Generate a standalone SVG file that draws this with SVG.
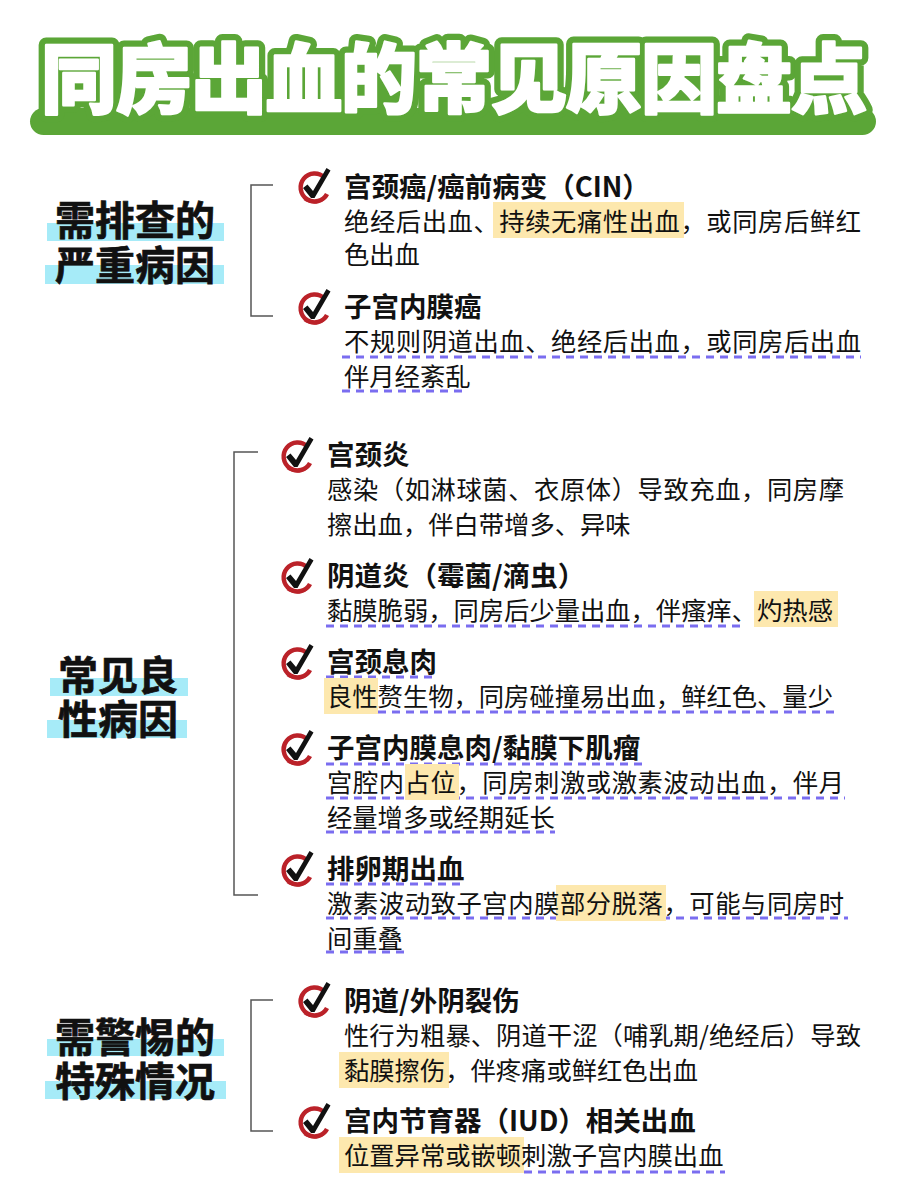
<svg xmlns="http://www.w3.org/2000/svg" width="900" height="1200" viewBox="0 0 900 1200">
<style>
text{font-family:"Noto Sans CJK SC","Noto Sans CJK JP",sans-serif;fill:#111}
.t{font-size:76px;font-weight:900;fill:#fff;stroke:#fff;stroke-width:2.5px;stroke-linejoin:round;letter-spacing:-1px}
.to{font-size:76px;font-weight:900;fill:#5ba637;stroke:#5ba637;stroke-width:15px;stroke-linejoin:round;letter-spacing:-1px}
.h{font-size:27.5px;font-weight:700}
.b{font-size:25.3px;font-weight:400}
.l{font-size:40px;font-weight:700;text-anchor:middle;stroke:#111;stroke-width:.7px}
.c{fill:#a6ebf8}
.y{fill:#fde8ae}
.u{stroke:#7a6df0;stroke-width:3;stroke-dasharray:8 6;fill:none}
.br{fill:none;stroke:#555;stroke-width:1.5}
</style>
<defs>
<g id="chk">
<path d="M10.500 -8.500 A14 14 0 1 0 13 8" fill="none" stroke="#bb2229" stroke-width="4.500"/>
<path d="M-10 13.500 A17 17 0 0 0 14 9.500" fill="none" stroke="#bb2229" stroke-width="1.300"/>
<path d="M-11 2 L-6.500 -1.500 L-1 5 L12.500 -18 L16.500 -15.500 L0.500 12 L-3 12 Z" fill="#111"/>
</g>
</defs>
<g id="title">
<rect x="30" y="108" width="846" height="27" rx="13.500" fill="#5ba637"/>
<text class="to" x="41" y="107">同房出血的常见原因盘点</text>
<text class="t" x="41" y="107">同房出血的常见原因盘点</text>
</g>
<g id="connectors">
<path class="br" d="M273 185H251V316H273"/>
<path class="br" d="M258 452H234V895H258"/>
<path class="br" d="M273 1000H251V1131H273"/>
</g>
<g id="label-1">
<rect class="c" x="47" y="223" width="177" height="18"/><rect class="c" x="45" y="265" width="179" height="19"/>
<text class="l" x="135" y="235">需排查的</text><text class="l" x="135" y="280">严重病因</text>
</g>
<g id="label-2">
<rect class="c" x="50" y="678" width="138" height="18"/><rect class="c" x="47" y="720" width="140" height="18"/>
<text class="l" x="118" y="690">常见良</text><text class="l" x="118" y="734">性病因</text>
</g>
<g id="label-3">
<rect class="c" x="47" y="1039" width="177" height="17"/><rect class="c" x="45" y="1081" width="181" height="18"/>
<text class="l" x="135" y="1052">需警惕的</text><text class="l" x="135" y="1096">特殊情况</text>
</g>
<g id="n1"><use href="#chk" x="314" y="186"/><rect class="y" x="493" y="202" width="191" height="36"/>
<text class="h" x="344" y="197">宫颈癌/癌前病变（CIN）</text>
<text class="b" x="344" y="231" textLength="517">绝经后出血、持续无痛性出血，或同房后鲜红</text>
<text class="b" x="344" y="264">色出血</text></g>
<g id="n2"><use href="#chk" x="314" y="307"/>
<path class="u" d="M342 357H861M342 391H467"/>
<text class="h" x="344" y="317">子宫内膜癌</text>
<text class="b" x="344" y="351" textLength="517">不规则阴道出血、绝经后出血，或同房后出血</text>
<text class="b" x="344" y="386">伴月经紊乱</text></g>
<g id="n3"><use href="#chk" x="297" y="455"/>
<text class="h" x="327" y="465">宫颈炎</text>
<text class="b" x="327" y="499" textLength="517">感染（如淋球菌、衣原体）导致充血，同房摩</text>
<text class="b" x="327" y="534">擦出血，伴白带增多、异味</text></g>
<g id="n4"><use href="#chk" x="297" y="576"/>
<path class="u" d="M326 626H745"/><rect class="y" x="754" y="591" width="84" height="36"/>
<text class="h" x="327" y="586">阴道炎（霉菌/滴虫）</text>
<text class="b" x="327" y="620">黏膜脆弱，同房后少量出血，伴瘙痒、灼热感</text></g>
<g id="n5"><use href="#chk" x="297" y="662"/>
<path class="u" d="M326 677H433M378 712H835"/><rect class="y" x="324" y="678" width="54" height="36"/>
<text class="h" x="327" y="672">宫颈息肉</text>
<text class="b" x="327" y="706">良性赘生物，同房碰撞易出血，鲜红色、量少</text></g>
<g id="n6"><use href="#chk" x="297" y="748"/>
<path class="u" d="M326 764H643M326 798H845M326 832H555"/><rect class="y" x="405" y="764" width="54" height="36"/>
<text class="h" x="327" y="758">子宫内膜息肉/黏膜下肌瘤</text>
<text class="b" x="327" y="792" textLength="517">宫腔内占位，同房刺激或激素波动出血，伴月</text>
<text class="b" x="327" y="827">经量增多或经期延长</text></g>
<g id="n7"><use href="#chk" x="297" y="869"/>
<path class="u" d="M326 884H465M326 918H848M326 952H404"/><rect class="y" x="556" y="885" width="110" height="36"/>
<text class="h" x="327" y="879">排卵期出血</text>
<text class="b" x="327" y="913" textLength="517">激素波动致子宫内膜部分脱落，可能与同房时</text>
<text class="b" x="327" y="948">间重叠</text></g>
<g id="n8"><use href="#chk" x="314" y="1000"/><rect class="y" x="339" y="1052" width="110" height="36"/>
<text class="h" x="344" y="1011">阴道/外阴裂伤</text>
<text class="b" x="344" y="1045" textLength="517">性行为粗暴、阴道干涩（哺乳期/绝经后）导致</text>
<text class="b" x="344" y="1080">黏膜擦伤，伴疼痛或鲜红色出血</text></g>
<g id="n9"><use href="#chk" x="314" y="1121"/>
<path class="u" d="M524 1172H725"/><rect class="y" x="339" y="1137" width="185" height="36"/>
<text class="h" x="344" y="1131">宫内节育器（IUD）相关出血</text>
<text class="b" x="344" y="1165">位置异常或嵌顿刺激子宫内膜出血</text></g>
</svg>
